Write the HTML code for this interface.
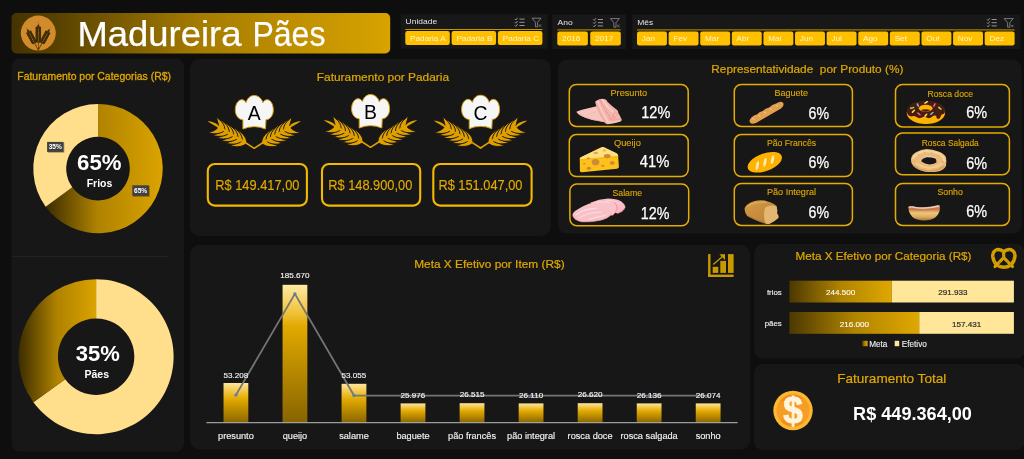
<!DOCTYPE html>
<html lang="pt-BR"><head><meta charset="utf-8"><title>Madureira Pães</title>
<style>
html,body{margin:0;padding:0;background:#0e0e0e;overflow:hidden}
body{width:1024px;height:459px}
svg{display:block;font-family:"Liberation Sans",sans-serif}
</style></head><body>
<svg width="1024" height="459" viewBox="0 0 1024 459">
<rect width="1024" height="459" fill="#0e0e0e"/>
<defs>
<linearGradient id="gBanner" x1="0" x2="1" y1="0" y2="0"><stop offset="0" stop-color="#453300"/><stop offset="0.12" stop-color="#584200"/><stop offset="0.5" stop-color="#a67c00"/><stop offset="1" stop-color="#d8a300"/></linearGradient>
<linearGradient id="gD1" gradientUnits="userSpaceOnUse" x1="45" x2="163" y1="0" y2="0"><stop offset="0" stop-color="#3a2b00"/><stop offset="0.45" stop-color="#b08300"/><stop offset="1" stop-color="#dba400"/></linearGradient>
<linearGradient id="gD2" gradientUnits="userSpaceOnUse" x1="18" x2="97" y1="0" y2="0"><stop offset="0" stop-color="#3a2b00"/><stop offset="0.5" stop-color="#b08300"/><stop offset="1" stop-color="#dba400"/></linearGradient>
<linearGradient id="gBar" x1="0" x2="0" y1="0" y2="1"><stop offset="0" stop-color="#ffe9a3"/><stop offset="0.2" stop-color="#f1c23c"/><stop offset="0.3" stop-color="#e2a900"/><stop offset="1" stop-color="#876400"/></linearGradient>
<linearGradient id="gBarS" x1="0" x2="0" y1="0" y2="1"><stop offset="0" stop-color="#ffe699"/><stop offset="0.4" stop-color="#e3aa00"/><stop offset="1" stop-color="#8a6700"/></linearGradient>
<linearGradient id="gH" x1="0" x2="1" y1="0" y2="0"><stop offset="0" stop-color="#4c3800"/><stop offset="0.5" stop-color="#b08400"/><stop offset="1" stop-color="#dfa700"/></linearGradient>
</defs>
<rect x="11.50" y="13.00" width="378.70" height="40.40" rx="5" fill="url(#gBanner)" />
<circle cx="38.3" cy="33.1" r="17.5" fill="#d18b2d"/>
<g transform="translate(38.3,41.4) rotate(0)" fill="#3f2c05" stroke="none"><path d="M-0.35 0 L0.35 0 L0.3 9 L-0.3 9Z"/><ellipse cx="-1.45" cy="-0.60" rx="1.3" ry="2.0" transform="rotate(-22 -1.45 -0.60)"/><ellipse cx="1.45" cy="-0.60" rx="1.3" ry="2.0" transform="rotate(22 1.45 -0.60)"/><ellipse cx="-1.45" cy="-3.05" rx="1.3" ry="2.0" transform="rotate(-22 -1.45 -3.05)"/><ellipse cx="1.45" cy="-3.05" rx="1.3" ry="2.0" transform="rotate(22 1.45 -3.05)"/><ellipse cx="-1.45" cy="-5.50" rx="1.3" ry="2.0" transform="rotate(-22 -1.45 -5.50)"/><ellipse cx="1.45" cy="-5.50" rx="1.3" ry="2.0" transform="rotate(22 1.45 -5.50)"/><ellipse cx="-1.45" cy="-7.95" rx="1.3" ry="2.0" transform="rotate(-22 -1.45 -7.95)"/><ellipse cx="1.45" cy="-7.95" rx="1.3" ry="2.0" transform="rotate(22 1.45 -7.95)"/><ellipse cx="-1.45" cy="-10.40" rx="1.3" ry="2.0" transform="rotate(-22 -1.45 -10.40)"/><ellipse cx="1.45" cy="-10.40" rx="1.3" ry="2.0" transform="rotate(22 1.45 -10.40)"/><ellipse cx="-1.45" cy="-12.85" rx="1.3" ry="2.0" transform="rotate(-22 -1.45 -12.85)"/><ellipse cx="1.45" cy="-12.85" rx="1.3" ry="2.0" transform="rotate(22 1.45 -12.85)"/><ellipse cx="0" cy="-14.90" rx="1.1" ry="2.1"/><path d="M-0.3 -14.70 L0 -21.20 L0.3 -14.70Z"/></g>
<g transform="translate(34.2,42.4) rotate(-28)" fill="#3f2c05" stroke="none"><path d="M-0.35 0 L0.35 0 L0.3 8.6 L-0.3 8.6Z"/><ellipse cx="-1.45" cy="-0.60" rx="1.3" ry="2.0" transform="rotate(-22 -1.45 -0.60)"/><ellipse cx="1.45" cy="-0.60" rx="1.3" ry="2.0" transform="rotate(22 1.45 -0.60)"/><ellipse cx="-1.45" cy="-3.05" rx="1.3" ry="2.0" transform="rotate(-22 -1.45 -3.05)"/><ellipse cx="1.45" cy="-3.05" rx="1.3" ry="2.0" transform="rotate(22 1.45 -3.05)"/><ellipse cx="-1.45" cy="-5.50" rx="1.3" ry="2.0" transform="rotate(-22 -1.45 -5.50)"/><ellipse cx="1.45" cy="-5.50" rx="1.3" ry="2.0" transform="rotate(22 1.45 -5.50)"/><ellipse cx="-1.45" cy="-7.95" rx="1.3" ry="2.0" transform="rotate(-22 -1.45 -7.95)"/><ellipse cx="1.45" cy="-7.95" rx="1.3" ry="2.0" transform="rotate(22 1.45 -7.95)"/><ellipse cx="-1.45" cy="-10.40" rx="1.3" ry="2.0" transform="rotate(-22 -1.45 -10.40)"/><ellipse cx="1.45" cy="-10.40" rx="1.3" ry="2.0" transform="rotate(22 1.45 -10.40)"/><ellipse cx="0" cy="-12.45" rx="1.1" ry="2.1"/><path d="M-0.3 -12.25 L0 -17.75 L0.3 -12.25Z"/></g>
<g transform="translate(42.4,42.4) rotate(28)" fill="#3f2c05" stroke="none"><path d="M-0.35 0 L0.35 0 L0.3 8.6 L-0.3 8.6Z"/><ellipse cx="-1.45" cy="-0.60" rx="1.3" ry="2.0" transform="rotate(-22 -1.45 -0.60)"/><ellipse cx="1.45" cy="-0.60" rx="1.3" ry="2.0" transform="rotate(22 1.45 -0.60)"/><ellipse cx="-1.45" cy="-3.05" rx="1.3" ry="2.0" transform="rotate(-22 -1.45 -3.05)"/><ellipse cx="1.45" cy="-3.05" rx="1.3" ry="2.0" transform="rotate(22 1.45 -3.05)"/><ellipse cx="-1.45" cy="-5.50" rx="1.3" ry="2.0" transform="rotate(-22 -1.45 -5.50)"/><ellipse cx="1.45" cy="-5.50" rx="1.3" ry="2.0" transform="rotate(22 1.45 -5.50)"/><ellipse cx="-1.45" cy="-7.95" rx="1.3" ry="2.0" transform="rotate(-22 -1.45 -7.95)"/><ellipse cx="1.45" cy="-7.95" rx="1.3" ry="2.0" transform="rotate(22 1.45 -7.95)"/><ellipse cx="-1.45" cy="-10.40" rx="1.3" ry="2.0" transform="rotate(-22 -1.45 -10.40)"/><ellipse cx="1.45" cy="-10.40" rx="1.3" ry="2.0" transform="rotate(22 1.45 -10.40)"/><ellipse cx="0" cy="-12.45" rx="1.1" ry="2.1"/><path d="M-0.3 -12.25 L0 -17.75 L0.3 -12.25Z"/></g>
<text y="45.8" font-size="34.8" fill="#fff" stroke="#fff" stroke-width="0.25" xml:space="preserve"><tspan x="77.5" textLength="164.0" lengthAdjust="spacingAndGlyphs">Madureira</tspan><tspan x="243.5" textLength="81.9" lengthAdjust="spacingAndGlyphs"> Pães</tspan></text>
<rect x="400.60" y="14.20" width="147.00" height="34.50" rx="0" fill="#181818" />
<text x="405.60" y="24.30" font-size="8.0" fill="#e4e4e4" text-anchor="start" textLength="31.6" lengthAdjust="spacingAndGlyphs"  xml:space="preserve">Unidade</text>
<rect x="405.3" y="29.00" width="137.10" height="1" fill="#c29400"/>
<rect x="405.30" y="31.00" width="44.50" height="14.00" rx="2.2" fill="#ffc000" />
<text x="410.10" y="40.50" font-size="7.8" fill="#fff3cf" text-anchor="start" textLength="35.5" lengthAdjust="spacingAndGlyphs"  xml:space="preserve">Padaria A</text>
<rect x="451.60" y="31.00" width="44.50" height="14.00" rx="2.2" fill="#ffc000" />
<text x="456.40" y="40.50" font-size="7.8" fill="#fff3cf" text-anchor="start" textLength="36.0" lengthAdjust="spacingAndGlyphs"  xml:space="preserve">Padaria B</text>
<rect x="497.90" y="31.00" width="44.50" height="14.00" rx="2.2" fill="#ffc000" />
<text x="502.70" y="40.50" font-size="7.8" fill="#fff3cf" text-anchor="start" textLength="36.4" lengthAdjust="spacingAndGlyphs"  xml:space="preserve">Padaria C</text>
<g stroke="#b4b4b4" stroke-width="0.8" fill="none" transform="translate(514.80,17.80)"><path d="M0 1.2 l1 1 l1.8 -2.2 M0 4.4 l1 1 l1.8 -2.2 M0 7.6 l1 1 l1.8 -2.2"/><path d="M4.6 1.3 h5.2 M4.6 4.5 h5.2 M4.6 7.7 h5.2"/><path d="M17.2 0.4 h9 l-3.4 4 v4.6 h-2.2 v-4.6 z" stroke-width="0.7" stroke="#a0a0a0"/><path d="M24 6.6 l2.4 2.4 M26.4 6.6 l-2.4 2.4" stroke-width="0.6" stroke="#a0a0a0"/></g>
<rect x="552.20" y="14.60" width="73.80" height="34.40" rx="0" fill="#181818" />
<text x="557.60" y="24.70" font-size="8.0" fill="#e4e4e4" text-anchor="start" textLength="15.1" lengthAdjust="spacingAndGlyphs"  xml:space="preserve">Ano</text>
<rect x="557.3" y="29.40" width="63.50" height="1" fill="#c29400"/>
<rect x="557.30" y="31.40" width="30.55" height="14.00" rx="2.2" fill="#ffc000" />
<text x="562.10" y="40.90" font-size="7.8" fill="#fff3cf" text-anchor="start" textLength="18.2" lengthAdjust="spacingAndGlyphs"  xml:space="preserve">2016</text>
<rect x="590.25" y="31.40" width="30.55" height="14.00" rx="2.2" fill="#ffc000" />
<text x="595.05" y="40.90" font-size="7.8" fill="#fff3cf" text-anchor="start" textLength="18.2" lengthAdjust="spacingAndGlyphs"  xml:space="preserve">2017</text>
<g stroke="#b4b4b4" stroke-width="0.8" fill="none" transform="translate(593.20,18.20)"><path d="M0 1.2 l1 1 l1.8 -2.2 M0 4.4 l1 1 l1.8 -2.2 M0 7.6 l1 1 l1.8 -2.2"/><path d="M4.6 1.3 h5.2 M4.6 4.5 h5.2 M4.6 7.7 h5.2"/><path d="M17.2 0.4 h9 l-3.4 4 v4.6 h-2.2 v-4.6 z" stroke-width="0.7" stroke="#a0a0a0"/><path d="M24 6.6 l2.4 2.4 M26.4 6.6 l-2.4 2.4" stroke-width="0.6" stroke="#a0a0a0"/></g>
<rect x="632.20" y="14.60" width="388.20" height="34.40" rx="0" fill="#181818" />
<text x="637.30" y="24.70" font-size="8.0" fill="#e4e4e4" text-anchor="start" textLength="16.0" lengthAdjust="spacingAndGlyphs"  xml:space="preserve">Mês</text>
<rect x="637.0" y="29.40" width="377.60" height="1" fill="#c29400"/>
<rect x="637.00" y="31.40" width="29.91" height="14.00" rx="2.2" fill="#ffc000" />
<text x="641.80" y="40.90" font-size="7.8" fill="#fff3cf" text-anchor="start" textLength="13.2" lengthAdjust="spacingAndGlyphs"  xml:space="preserve">Jan</text>
<rect x="668.61" y="31.40" width="29.91" height="14.00" rx="2.2" fill="#ffc000" />
<text x="673.41" y="40.90" font-size="7.8" fill="#fff3cf" text-anchor="start" textLength="13.7" lengthAdjust="spacingAndGlyphs"  xml:space="preserve">Fev</text>
<rect x="700.22" y="31.40" width="29.91" height="14.00" rx="2.2" fill="#ffc000" />
<text x="705.02" y="40.90" font-size="7.8" fill="#fff3cf" text-anchor="start" textLength="14.1" lengthAdjust="spacingAndGlyphs"  xml:space="preserve">Mar</text>
<rect x="731.83" y="31.40" width="29.91" height="14.00" rx="2.2" fill="#ffc000" />
<text x="736.62" y="40.90" font-size="7.8" fill="#fff3cf" text-anchor="start" textLength="12.7" lengthAdjust="spacingAndGlyphs"  xml:space="preserve">Abr</text>
<rect x="763.43" y="31.40" width="29.91" height="14.00" rx="2.2" fill="#ffc000" />
<text x="768.23" y="40.90" font-size="7.8" fill="#fff3cf" text-anchor="start" textLength="13.2" lengthAdjust="spacingAndGlyphs"  xml:space="preserve">Mai</text>
<rect x="795.04" y="31.40" width="29.91" height="14.00" rx="2.2" fill="#ffc000" />
<text x="799.84" y="40.90" font-size="7.8" fill="#fff3cf" text-anchor="start" textLength="13.2" lengthAdjust="spacingAndGlyphs"  xml:space="preserve">Jun</text>
<rect x="826.65" y="31.40" width="29.91" height="14.00" rx="2.2" fill="#ffc000" />
<text x="831.45" y="40.90" font-size="7.8" fill="#fff3cf" text-anchor="start" textLength="10.5" lengthAdjust="spacingAndGlyphs"  xml:space="preserve">Jul</text>
<rect x="858.26" y="31.40" width="29.91" height="14.00" rx="2.2" fill="#ffc000" />
<text x="863.06" y="40.90" font-size="7.8" fill="#fff3cf" text-anchor="start" textLength="14.6" lengthAdjust="spacingAndGlyphs"  xml:space="preserve">Ago</text>
<rect x="889.87" y="31.40" width="29.91" height="14.00" rx="2.2" fill="#ffc000" />
<text x="894.67" y="40.90" font-size="7.8" fill="#fff3cf" text-anchor="start" textLength="12.3" lengthAdjust="spacingAndGlyphs"  xml:space="preserve">Set</text>
<rect x="921.48" y="31.40" width="29.91" height="14.00" rx="2.2" fill="#ffc000" />
<text x="926.27" y="40.90" font-size="7.8" fill="#fff3cf" text-anchor="start" textLength="13.2" lengthAdjust="spacingAndGlyphs"  xml:space="preserve">Out</text>
<rect x="953.08" y="31.40" width="29.91" height="14.00" rx="2.2" fill="#ffc000" />
<text x="957.88" y="40.90" font-size="7.8" fill="#fff3cf" text-anchor="start" textLength="14.6" lengthAdjust="spacingAndGlyphs"  xml:space="preserve">Nov</text>
<rect x="984.69" y="31.40" width="29.91" height="14.00" rx="2.2" fill="#ffc000" />
<text x="989.49" y="40.90" font-size="7.8" fill="#fff3cf" text-anchor="start" textLength="14.6" lengthAdjust="spacingAndGlyphs"  xml:space="preserve">Dez</text>
<g stroke="#b4b4b4" stroke-width="0.8" fill="none" transform="translate(987.00,18.20)"><path d="M0 1.2 l1 1 l1.8 -2.2 M0 4.4 l1 1 l1.8 -2.2 M0 7.6 l1 1 l1.8 -2.2"/><path d="M4.6 1.3 h5.2 M4.6 4.5 h5.2 M4.6 7.7 h5.2"/><path d="M17.2 0.4 h9 l-3.4 4 v4.6 h-2.2 v-4.6 z" stroke-width="0.7" stroke="#a0a0a0"/><path d="M24 6.6 l2.4 2.4 M26.4 6.6 l-2.4 2.4" stroke-width="0.6" stroke="#a0a0a0"/></g>
<rect x="11.70" y="58.40" width="172.30" height="393.30" rx="8" fill="#171717" />
<rect x="11.7" y="256" width="157" height="0.8" fill="#262626"/>
<text x="17.30" y="79.80" font-size="10.4" fill="#e0a900" text-anchor="start" textLength="153.7" lengthAdjust="spacingAndGlyphs"  stroke="#e0a900" stroke-width="0.3" xml:space="preserve">Faturamento por Categorias (R$)</text>
<path d="M98.00 103.90 A64.7 64.7 0 1 1 45.66 206.63 L72.27 187.29 A31.8 31.8 0 1 0 98.00 136.80 Z" fill="url(#gD1)"/>
<path d="M45.66 206.63 A64.7 64.7 0 0 1 98.00 103.90 L98.00 136.80 A31.8 31.8 0 0 0 72.27 187.29 Z" fill="#ffdf8c"/>
<path d="M96.10 279.20 A77.5 77.5 0 1 1 33.40 402.25 L65.20 379.15 A38.2 38.2 0 1 0 96.10 318.50 Z" fill="#ffdf8c"/>
<path d="M33.40 402.25 A77.5 77.5 0 0 1 96.10 279.20 L96.10 318.50 A38.2 38.2 0 0 0 65.20 379.15 Z" fill="url(#gD2)"/>
<text x="77.10" y="169.70" font-size="22.4" fill="#fff" text-anchor="start" font-weight="bold" textLength="44.4" lengthAdjust="spacingAndGlyphs"  xml:space="preserve">65%</text>
<text x="86.70" y="187.00" font-size="11.4" fill="#fff" text-anchor="start" font-weight="bold" textLength="25.6" lengthAdjust="spacingAndGlyphs"  xml:space="preserve">Frios</text>
<text x="75.70" y="360.70" font-size="22.4" fill="#fff" text-anchor="start" font-weight="bold" textLength="44.1" lengthAdjust="spacingAndGlyphs"  xml:space="preserve">35%</text>
<text x="84.40" y="377.90" font-size="10.6" fill="#fff" text-anchor="start" font-weight="bold" textLength="24.6" lengthAdjust="spacingAndGlyphs"  xml:space="preserve">Pães</text>
<rect x="47.9" y="142.70000000000002" width="16.4" height="10.0" fill="#000" opacity="0.35"/>
<rect x="47.10" y="141.90" width="16.40" height="10.00" rx="0" fill="#404040" />
<text x="55.30" y="149.30" font-size="6.6" fill="#fff" text-anchor="middle" font-weight="bold"  xml:space="preserve">35%</text>
<rect x="133.10000000000002" y="186.10000000000002" width="16.599999999999994" height="10.599999999999994" fill="#000" opacity="0.35"/>
<rect x="132.30" y="185.30" width="16.60" height="10.60" rx="0" fill="#404040" />
<text x="140.60" y="193.30" font-size="6.6" fill="#fff" text-anchor="middle" font-weight="bold"  xml:space="preserve">65%</text>
<rect x="189.80" y="58.90" width="361.00" height="177.10" rx="10" fill="#171717" />
<text x="316.80" y="80.90" font-size="11.5" fill="#e0a900" text-anchor="start" textLength="132.3" lengthAdjust="spacingAndGlyphs"  stroke="#e0a900" stroke-width="0.2" xml:space="preserve">Faturamento por Padaria</text>
<g transform="translate(254.20,148.30)">
<g fill="#dfa000" ><g stroke="#171717" stroke-width="1.0" stroke-linejoin="round"><path d="M-7.50 -5.00 C-7.30 -10.50 -10.90 -14.40 -16.10 -18.20 C-14.70 -13.00 -13.30 -9.60 -13.50 -6.40 Z"/><path d="M-11.86 -7.60 C-11.66 -13.10 -15.26 -17.00 -20.46 -20.80 C-19.06 -15.60 -17.66 -12.20 -17.86 -9.00 Z"/><path d="M-16.22 -10.20 C-16.02 -15.70 -19.62 -19.60 -24.82 -23.40 C-23.42 -18.20 -22.02 -14.80 -22.22 -11.60 Z"/><path d="M-20.58 -12.80 C-20.38 -18.30 -23.98 -22.20 -29.18 -26.00 C-27.78 -20.80 -26.38 -17.40 -26.58 -14.20 Z"/><path d="M-24.94 -15.40 C-24.74 -20.90 -28.34 -24.80 -33.54 -28.60 C-32.14 -23.40 -30.74 -20.00 -30.94 -16.80 Z"/><path d="M-29.30 -18.00 C-29.10 -23.50 -32.70 -27.40 -37.90 -31.20 C-36.50 -26.00 -35.10 -22.60 -35.30 -19.40 Z"/><path d="M-7.50 -5.00 C-11.90 -0.80 -18.90 -1.00 -24.70 -2.60 C-19.90 -3.60 -15.90 -5.40 -13.90 -8.60 Z"/><path d="M-11.86 -7.60 C-16.26 -3.40 -23.26 -3.60 -29.06 -5.20 C-24.26 -6.20 -20.26 -8.00 -18.26 -11.20 Z"/><path d="M-16.22 -10.20 C-20.62 -6.00 -27.62 -6.20 -33.42 -7.80 C-28.62 -8.80 -24.62 -10.60 -22.62 -13.80 Z"/><path d="M-20.58 -12.80 C-24.98 -8.60 -31.98 -8.80 -37.78 -10.40 C-32.98 -11.40 -28.98 -13.20 -26.98 -16.40 Z"/><path d="M-24.94 -15.40 C-29.34 -11.20 -36.34 -11.40 -42.14 -13.00 C-37.34 -14.00 -33.34 -15.80 -31.34 -19.00 Z"/><path d="M-29.30 -18.00 C-33.70 -13.80 -40.70 -14.00 -46.50 -15.60 C-41.70 -16.60 -37.70 -18.40 -35.70 -21.60 Z"/></g><path d="M-9.5 -6.0 L-36 -21.6" stroke="#dfa000" stroke-width="2.2" fill="none" stroke-linecap="round"/><path d="M0 0 L-10.5 -6.8" stroke="#dfa000" stroke-width="1.5" fill="none" stroke-linecap="round"/><path d="M-35.5 -20.8 C-40 -22.6 -43 -24.8 -46.8 -27.4 C-42.5 -26.8 -39.5 -26.2 -36.4 -23.6 Z"/></g>
<g fill="#dfa000" transform="scale(-1,1)"><g stroke="#171717" stroke-width="1.0" stroke-linejoin="round"><path d="M-7.50 -5.00 C-7.30 -10.50 -10.90 -14.40 -16.10 -18.20 C-14.70 -13.00 -13.30 -9.60 -13.50 -6.40 Z"/><path d="M-11.86 -7.60 C-11.66 -13.10 -15.26 -17.00 -20.46 -20.80 C-19.06 -15.60 -17.66 -12.20 -17.86 -9.00 Z"/><path d="M-16.22 -10.20 C-16.02 -15.70 -19.62 -19.60 -24.82 -23.40 C-23.42 -18.20 -22.02 -14.80 -22.22 -11.60 Z"/><path d="M-20.58 -12.80 C-20.38 -18.30 -23.98 -22.20 -29.18 -26.00 C-27.78 -20.80 -26.38 -17.40 -26.58 -14.20 Z"/><path d="M-24.94 -15.40 C-24.74 -20.90 -28.34 -24.80 -33.54 -28.60 C-32.14 -23.40 -30.74 -20.00 -30.94 -16.80 Z"/><path d="M-29.30 -18.00 C-29.10 -23.50 -32.70 -27.40 -37.90 -31.20 C-36.50 -26.00 -35.10 -22.60 -35.30 -19.40 Z"/><path d="M-7.50 -5.00 C-11.90 -0.80 -18.90 -1.00 -24.70 -2.60 C-19.90 -3.60 -15.90 -5.40 -13.90 -8.60 Z"/><path d="M-11.86 -7.60 C-16.26 -3.40 -23.26 -3.60 -29.06 -5.20 C-24.26 -6.20 -20.26 -8.00 -18.26 -11.20 Z"/><path d="M-16.22 -10.20 C-20.62 -6.00 -27.62 -6.20 -33.42 -7.80 C-28.62 -8.80 -24.62 -10.60 -22.62 -13.80 Z"/><path d="M-20.58 -12.80 C-24.98 -8.60 -31.98 -8.80 -37.78 -10.40 C-32.98 -11.40 -28.98 -13.20 -26.98 -16.40 Z"/><path d="M-24.94 -15.40 C-29.34 -11.20 -36.34 -11.40 -42.14 -13.00 C-37.34 -14.00 -33.34 -15.80 -31.34 -19.00 Z"/><path d="M-29.30 -18.00 C-33.70 -13.80 -40.70 -14.00 -46.50 -15.60 C-41.70 -16.60 -37.70 -18.40 -35.70 -21.60 Z"/></g><path d="M-9.5 -6.0 L-36 -21.6" stroke="#dfa000" stroke-width="2.2" fill="none" stroke-linecap="round"/><path d="M0 0 L-10.5 -6.8" stroke="#dfa000" stroke-width="1.5" fill="none" stroke-linecap="round"/><path d="M-35.5 -20.8 C-40 -22.6 -43 -24.8 -46.8 -27.4 C-42.5 -26.8 -39.5 -26.2 -36.4 -23.6 Z"/></g>
<path d="M-11.7 -18.7 L-11.7 -28.2 C-16.5 -28.6 -19.6 -33 -19.6 -38.5 C-19.6 -44.5 -16.5 -49.1 -12.8 -49.1 C-10.8 -49.1 -9.2 -47.6 -8.4 -46 C-7.2 -50.6 -4 -53.4 0 -53.4 C4 -53.4 7.8 -50.6 9 -46 C9.8 -47.6 11.4 -49.1 13.4 -49.1 C17 -49.1 19.8 -44.5 19.8 -38.5 C19.8 -33 16.8 -28.6 12.2 -28.2 L11.7 -18.7 Q0 -23.6 -11.7 -18.7 Z" fill="#f6f6f6" stroke="#d9a000" stroke-width="1.0" stroke-linejoin="round" transform="translate(0,-36) scale(0.965) translate(0,36)"/>
<text x="0" y="-28.3" font-size="19.4" fill="#000" text-anchor="middle">A</text>
</g>
<g transform="translate(370.50,147.30)">
<g fill="#dfa000" ><g stroke="#171717" stroke-width="1.0" stroke-linejoin="round"><path d="M-7.50 -5.00 C-7.30 -10.50 -10.90 -14.40 -16.10 -18.20 C-14.70 -13.00 -13.30 -9.60 -13.50 -6.40 Z"/><path d="M-11.86 -7.60 C-11.66 -13.10 -15.26 -17.00 -20.46 -20.80 C-19.06 -15.60 -17.66 -12.20 -17.86 -9.00 Z"/><path d="M-16.22 -10.20 C-16.02 -15.70 -19.62 -19.60 -24.82 -23.40 C-23.42 -18.20 -22.02 -14.80 -22.22 -11.60 Z"/><path d="M-20.58 -12.80 C-20.38 -18.30 -23.98 -22.20 -29.18 -26.00 C-27.78 -20.80 -26.38 -17.40 -26.58 -14.20 Z"/><path d="M-24.94 -15.40 C-24.74 -20.90 -28.34 -24.80 -33.54 -28.60 C-32.14 -23.40 -30.74 -20.00 -30.94 -16.80 Z"/><path d="M-29.30 -18.00 C-29.10 -23.50 -32.70 -27.40 -37.90 -31.20 C-36.50 -26.00 -35.10 -22.60 -35.30 -19.40 Z"/><path d="M-7.50 -5.00 C-11.90 -0.80 -18.90 -1.00 -24.70 -2.60 C-19.90 -3.60 -15.90 -5.40 -13.90 -8.60 Z"/><path d="M-11.86 -7.60 C-16.26 -3.40 -23.26 -3.60 -29.06 -5.20 C-24.26 -6.20 -20.26 -8.00 -18.26 -11.20 Z"/><path d="M-16.22 -10.20 C-20.62 -6.00 -27.62 -6.20 -33.42 -7.80 C-28.62 -8.80 -24.62 -10.60 -22.62 -13.80 Z"/><path d="M-20.58 -12.80 C-24.98 -8.60 -31.98 -8.80 -37.78 -10.40 C-32.98 -11.40 -28.98 -13.20 -26.98 -16.40 Z"/><path d="M-24.94 -15.40 C-29.34 -11.20 -36.34 -11.40 -42.14 -13.00 C-37.34 -14.00 -33.34 -15.80 -31.34 -19.00 Z"/><path d="M-29.30 -18.00 C-33.70 -13.80 -40.70 -14.00 -46.50 -15.60 C-41.70 -16.60 -37.70 -18.40 -35.70 -21.60 Z"/></g><path d="M-9.5 -6.0 L-36 -21.6" stroke="#dfa000" stroke-width="2.2" fill="none" stroke-linecap="round"/><path d="M0 0 L-10.5 -6.8" stroke="#dfa000" stroke-width="1.5" fill="none" stroke-linecap="round"/><path d="M-35.5 -20.8 C-40 -22.6 -43 -24.8 -46.8 -27.4 C-42.5 -26.8 -39.5 -26.2 -36.4 -23.6 Z"/></g>
<g fill="#dfa000" transform="scale(-1,1)"><g stroke="#171717" stroke-width="1.0" stroke-linejoin="round"><path d="M-7.50 -5.00 C-7.30 -10.50 -10.90 -14.40 -16.10 -18.20 C-14.70 -13.00 -13.30 -9.60 -13.50 -6.40 Z"/><path d="M-11.86 -7.60 C-11.66 -13.10 -15.26 -17.00 -20.46 -20.80 C-19.06 -15.60 -17.66 -12.20 -17.86 -9.00 Z"/><path d="M-16.22 -10.20 C-16.02 -15.70 -19.62 -19.60 -24.82 -23.40 C-23.42 -18.20 -22.02 -14.80 -22.22 -11.60 Z"/><path d="M-20.58 -12.80 C-20.38 -18.30 -23.98 -22.20 -29.18 -26.00 C-27.78 -20.80 -26.38 -17.40 -26.58 -14.20 Z"/><path d="M-24.94 -15.40 C-24.74 -20.90 -28.34 -24.80 -33.54 -28.60 C-32.14 -23.40 -30.74 -20.00 -30.94 -16.80 Z"/><path d="M-29.30 -18.00 C-29.10 -23.50 -32.70 -27.40 -37.90 -31.20 C-36.50 -26.00 -35.10 -22.60 -35.30 -19.40 Z"/><path d="M-7.50 -5.00 C-11.90 -0.80 -18.90 -1.00 -24.70 -2.60 C-19.90 -3.60 -15.90 -5.40 -13.90 -8.60 Z"/><path d="M-11.86 -7.60 C-16.26 -3.40 -23.26 -3.60 -29.06 -5.20 C-24.26 -6.20 -20.26 -8.00 -18.26 -11.20 Z"/><path d="M-16.22 -10.20 C-20.62 -6.00 -27.62 -6.20 -33.42 -7.80 C-28.62 -8.80 -24.62 -10.60 -22.62 -13.80 Z"/><path d="M-20.58 -12.80 C-24.98 -8.60 -31.98 -8.80 -37.78 -10.40 C-32.98 -11.40 -28.98 -13.20 -26.98 -16.40 Z"/><path d="M-24.94 -15.40 C-29.34 -11.20 -36.34 -11.40 -42.14 -13.00 C-37.34 -14.00 -33.34 -15.80 -31.34 -19.00 Z"/><path d="M-29.30 -18.00 C-33.70 -13.80 -40.70 -14.00 -46.50 -15.60 C-41.70 -16.60 -37.70 -18.40 -35.70 -21.60 Z"/></g><path d="M-9.5 -6.0 L-36 -21.6" stroke="#dfa000" stroke-width="2.2" fill="none" stroke-linecap="round"/><path d="M0 0 L-10.5 -6.8" stroke="#dfa000" stroke-width="1.5" fill="none" stroke-linecap="round"/><path d="M-35.5 -20.8 C-40 -22.6 -43 -24.8 -46.8 -27.4 C-42.5 -26.8 -39.5 -26.2 -36.4 -23.6 Z"/></g>
<path d="M-11.7 -18.7 L-11.7 -28.2 C-16.5 -28.6 -19.6 -33 -19.6 -38.5 C-19.6 -44.5 -16.5 -49.1 -12.8 -49.1 C-10.8 -49.1 -9.2 -47.6 -8.4 -46 C-7.2 -50.6 -4 -53.4 0 -53.4 C4 -53.4 7.8 -50.6 9 -46 C9.8 -47.6 11.4 -49.1 13.4 -49.1 C17 -49.1 19.8 -44.5 19.8 -38.5 C19.8 -33 16.8 -28.6 12.2 -28.2 L11.7 -18.7 Q0 -23.6 -11.7 -18.7 Z" fill="#f6f6f6" stroke="#d9a000" stroke-width="1.0" stroke-linejoin="round" transform="translate(0,-36) scale(0.965) translate(0,36)"/>
<text x="0" y="-28.3" font-size="19.4" fill="#000" text-anchor="middle">B</text>
</g>
<g transform="translate(480.50,148.00)">
<g fill="#dfa000" ><g stroke="#171717" stroke-width="1.0" stroke-linejoin="round"><path d="M-7.50 -5.00 C-7.30 -10.50 -10.90 -14.40 -16.10 -18.20 C-14.70 -13.00 -13.30 -9.60 -13.50 -6.40 Z"/><path d="M-11.86 -7.60 C-11.66 -13.10 -15.26 -17.00 -20.46 -20.80 C-19.06 -15.60 -17.66 -12.20 -17.86 -9.00 Z"/><path d="M-16.22 -10.20 C-16.02 -15.70 -19.62 -19.60 -24.82 -23.40 C-23.42 -18.20 -22.02 -14.80 -22.22 -11.60 Z"/><path d="M-20.58 -12.80 C-20.38 -18.30 -23.98 -22.20 -29.18 -26.00 C-27.78 -20.80 -26.38 -17.40 -26.58 -14.20 Z"/><path d="M-24.94 -15.40 C-24.74 -20.90 -28.34 -24.80 -33.54 -28.60 C-32.14 -23.40 -30.74 -20.00 -30.94 -16.80 Z"/><path d="M-29.30 -18.00 C-29.10 -23.50 -32.70 -27.40 -37.90 -31.20 C-36.50 -26.00 -35.10 -22.60 -35.30 -19.40 Z"/><path d="M-7.50 -5.00 C-11.90 -0.80 -18.90 -1.00 -24.70 -2.60 C-19.90 -3.60 -15.90 -5.40 -13.90 -8.60 Z"/><path d="M-11.86 -7.60 C-16.26 -3.40 -23.26 -3.60 -29.06 -5.20 C-24.26 -6.20 -20.26 -8.00 -18.26 -11.20 Z"/><path d="M-16.22 -10.20 C-20.62 -6.00 -27.62 -6.20 -33.42 -7.80 C-28.62 -8.80 -24.62 -10.60 -22.62 -13.80 Z"/><path d="M-20.58 -12.80 C-24.98 -8.60 -31.98 -8.80 -37.78 -10.40 C-32.98 -11.40 -28.98 -13.20 -26.98 -16.40 Z"/><path d="M-24.94 -15.40 C-29.34 -11.20 -36.34 -11.40 -42.14 -13.00 C-37.34 -14.00 -33.34 -15.80 -31.34 -19.00 Z"/><path d="M-29.30 -18.00 C-33.70 -13.80 -40.70 -14.00 -46.50 -15.60 C-41.70 -16.60 -37.70 -18.40 -35.70 -21.60 Z"/></g><path d="M-9.5 -6.0 L-36 -21.6" stroke="#dfa000" stroke-width="2.2" fill="none" stroke-linecap="round"/><path d="M0 0 L-10.5 -6.8" stroke="#dfa000" stroke-width="1.5" fill="none" stroke-linecap="round"/><path d="M-35.5 -20.8 C-40 -22.6 -43 -24.8 -46.8 -27.4 C-42.5 -26.8 -39.5 -26.2 -36.4 -23.6 Z"/></g>
<g fill="#dfa000" transform="scale(-1,1)"><g stroke="#171717" stroke-width="1.0" stroke-linejoin="round"><path d="M-7.50 -5.00 C-7.30 -10.50 -10.90 -14.40 -16.10 -18.20 C-14.70 -13.00 -13.30 -9.60 -13.50 -6.40 Z"/><path d="M-11.86 -7.60 C-11.66 -13.10 -15.26 -17.00 -20.46 -20.80 C-19.06 -15.60 -17.66 -12.20 -17.86 -9.00 Z"/><path d="M-16.22 -10.20 C-16.02 -15.70 -19.62 -19.60 -24.82 -23.40 C-23.42 -18.20 -22.02 -14.80 -22.22 -11.60 Z"/><path d="M-20.58 -12.80 C-20.38 -18.30 -23.98 -22.20 -29.18 -26.00 C-27.78 -20.80 -26.38 -17.40 -26.58 -14.20 Z"/><path d="M-24.94 -15.40 C-24.74 -20.90 -28.34 -24.80 -33.54 -28.60 C-32.14 -23.40 -30.74 -20.00 -30.94 -16.80 Z"/><path d="M-29.30 -18.00 C-29.10 -23.50 -32.70 -27.40 -37.90 -31.20 C-36.50 -26.00 -35.10 -22.60 -35.30 -19.40 Z"/><path d="M-7.50 -5.00 C-11.90 -0.80 -18.90 -1.00 -24.70 -2.60 C-19.90 -3.60 -15.90 -5.40 -13.90 -8.60 Z"/><path d="M-11.86 -7.60 C-16.26 -3.40 -23.26 -3.60 -29.06 -5.20 C-24.26 -6.20 -20.26 -8.00 -18.26 -11.20 Z"/><path d="M-16.22 -10.20 C-20.62 -6.00 -27.62 -6.20 -33.42 -7.80 C-28.62 -8.80 -24.62 -10.60 -22.62 -13.80 Z"/><path d="M-20.58 -12.80 C-24.98 -8.60 -31.98 -8.80 -37.78 -10.40 C-32.98 -11.40 -28.98 -13.20 -26.98 -16.40 Z"/><path d="M-24.94 -15.40 C-29.34 -11.20 -36.34 -11.40 -42.14 -13.00 C-37.34 -14.00 -33.34 -15.80 -31.34 -19.00 Z"/><path d="M-29.30 -18.00 C-33.70 -13.80 -40.70 -14.00 -46.50 -15.60 C-41.70 -16.60 -37.70 -18.40 -35.70 -21.60 Z"/></g><path d="M-9.5 -6.0 L-36 -21.6" stroke="#dfa000" stroke-width="2.2" fill="none" stroke-linecap="round"/><path d="M0 0 L-10.5 -6.8" stroke="#dfa000" stroke-width="1.5" fill="none" stroke-linecap="round"/><path d="M-35.5 -20.8 C-40 -22.6 -43 -24.8 -46.8 -27.4 C-42.5 -26.8 -39.5 -26.2 -36.4 -23.6 Z"/></g>
<path d="M-11.7 -18.7 L-11.7 -28.2 C-16.5 -28.6 -19.6 -33 -19.6 -38.5 C-19.6 -44.5 -16.5 -49.1 -12.8 -49.1 C-10.8 -49.1 -9.2 -47.6 -8.4 -46 C-7.2 -50.6 -4 -53.4 0 -53.4 C4 -53.4 7.8 -50.6 9 -46 C9.8 -47.6 11.4 -49.1 13.4 -49.1 C17 -49.1 19.8 -44.5 19.8 -38.5 C19.8 -33 16.8 -28.6 12.2 -28.2 L11.7 -18.7 Q0 -23.6 -11.7 -18.7 Z" fill="#f6f6f6" stroke="#d9a000" stroke-width="1.0" stroke-linejoin="round" transform="translate(0,-36) scale(0.965) translate(0,36)"/>
<text x="0" y="-28.3" font-size="19.4" fill="#000" text-anchor="middle">C</text>
</g>
<rect x="207.80" y="164.0" width="99.10" height="41.6" rx="7" fill="none" stroke="#f4b800" stroke-width="2.1"/>
<text x="215.30" y="190.30" font-size="14.0" fill="#e3aa00" text-anchor="start" textLength="84.1" lengthAdjust="spacingAndGlyphs"  stroke="#e3aa00" stroke-width="0.15" xml:space="preserve">R$ 149.417,00</text>
<rect x="322.00" y="164.0" width="98.20" height="41.6" rx="7" fill="none" stroke="#f4b800" stroke-width="2.1"/>
<text x="328.20" y="190.30" font-size="14.0" fill="#e3aa00" text-anchor="start" textLength="84.1" lengthAdjust="spacingAndGlyphs"  stroke="#e3aa00" stroke-width="0.15" xml:space="preserve">R$ 148.900,00</text>
<rect x="433.30" y="164.0" width="98.30" height="41.6" rx="7" fill="none" stroke="#f4b800" stroke-width="2.1"/>
<text x="438.40" y="190.30" font-size="14.0" fill="#e3aa00" text-anchor="start" textLength="84.1" lengthAdjust="spacingAndGlyphs"  stroke="#e3aa00" stroke-width="0.15" xml:space="preserve">R$ 151.047,00</text>
<rect x="557.90" y="59.40" width="463.60" height="174.20" rx="9" fill="#171717" />
<text x="711.30" y="73.00" font-size="11.5" fill="#e0a900" text-anchor="start" textLength="192.1" lengthAdjust="spacingAndGlyphs"  stroke="#e0a900" stroke-width="0.2" xml:space="preserve">Representatividade  por Produto (%)</text>
<rect x="569.30" y="84.40" width="118.90" height="42.00" rx="7" fill="none" stroke="#e6ac00" stroke-width="1.5"/>
<text x="610.50" y="95.80" font-size="9" fill="#e0a900" text-anchor="start" textLength="36.7" lengthAdjust="spacingAndGlyphs"  stroke="#e0a900" stroke-width="0.12" xml:space="preserve">Presunto</text>
<text x="641.30" y="117.90" font-size="16.4" fill="#fff" text-anchor="start" textLength="29.0" lengthAdjust="spacingAndGlyphs"  stroke="#fff" stroke-width="0.25" xml:space="preserve">12%</text>
<rect x="569.30" y="134.60" width="118.90" height="41.90" rx="7" fill="none" stroke="#e6ac00" stroke-width="1.5"/>
<text x="614.00" y="145.80" font-size="9" fill="#e0a900" text-anchor="start" textLength="26.8" lengthAdjust="spacingAndGlyphs"  stroke="#e0a900" stroke-width="0.12" xml:space="preserve">Queijo</text>
<text x="639.80" y="167.10" font-size="16.4" fill="#fff" text-anchor="start" textLength="29.6" lengthAdjust="spacingAndGlyphs"  stroke="#fff" stroke-width="0.25" xml:space="preserve">41%</text>
<rect x="569.90" y="184.00" width="118.80" height="41.80" rx="7" fill="none" stroke="#e6ac00" stroke-width="1.5"/>
<text x="612.50" y="195.80" font-size="9" fill="#e0a900" text-anchor="start" textLength="29.5" lengthAdjust="spacingAndGlyphs"  stroke="#e0a900" stroke-width="0.12" xml:space="preserve">Salame</text>
<text x="640.80" y="218.50" font-size="16.4" fill="#fff" text-anchor="start" textLength="28.6" lengthAdjust="spacingAndGlyphs"  stroke="#fff" stroke-width="0.25" xml:space="preserve">12%</text>
<rect x="734.30" y="84.40" width="118.10" height="42.00" rx="7" fill="none" stroke="#e6ac00" stroke-width="1.5"/>
<text x="774.50" y="96.20" font-size="9" fill="#e0a900" text-anchor="start" textLength="33.6" lengthAdjust="spacingAndGlyphs"  stroke="#e0a900" stroke-width="0.12" xml:space="preserve">Baguete</text>
<text x="808.50" y="118.50" font-size="16.4" fill="#fff" text-anchor="start" textLength="20.5" lengthAdjust="spacingAndGlyphs"  stroke="#fff" stroke-width="0.25" xml:space="preserve">6%</text>
<rect x="734.30" y="134.60" width="118.10" height="41.90" rx="7" fill="none" stroke="#e6ac00" stroke-width="1.5"/>
<text x="766.90" y="145.80" font-size="9" fill="#e0a900" text-anchor="start" textLength="49.2" lengthAdjust="spacingAndGlyphs"  stroke="#e0a900" stroke-width="0.12" xml:space="preserve">Pão Francês</text>
<text x="808.50" y="167.70" font-size="16.4" fill="#fff" text-anchor="start" textLength="20.5" lengthAdjust="spacingAndGlyphs"  stroke="#fff" stroke-width="0.25" xml:space="preserve">6%</text>
<rect x="734.30" y="183.50" width="118.10" height="41.90" rx="7" fill="none" stroke="#e6ac00" stroke-width="1.5"/>
<text x="766.90" y="194.70" font-size="9" fill="#e0a900" text-anchor="start" textLength="49.2" lengthAdjust="spacingAndGlyphs"  stroke="#e0a900" stroke-width="0.12" xml:space="preserve">Pão Integral</text>
<text x="808.50" y="217.50" font-size="16.4" fill="#fff" text-anchor="start" textLength="20.5" lengthAdjust="spacingAndGlyphs"  stroke="#fff" stroke-width="0.25" xml:space="preserve">6%</text>
<rect x="895.50" y="84.40" width="113.90" height="42.50" rx="7" fill="none" stroke="#e6ac00" stroke-width="1.5"/>
<text x="927.50" y="96.50" font-size="9" fill="#e0a900" text-anchor="start" textLength="45.6" lengthAdjust="spacingAndGlyphs"  stroke="#e0a900" stroke-width="0.12" xml:space="preserve">Rosca doce</text>
<text x="966.30" y="117.70" font-size="16.4" fill="#fff" text-anchor="start" textLength="20.9" lengthAdjust="spacingAndGlyphs"  stroke="#fff" stroke-width="0.25" xml:space="preserve">6%</text>
<rect x="895.50" y="132.90" width="113.90" height="41.90" rx="7" fill="none" stroke="#e6ac00" stroke-width="1.5"/>
<text x="921.70" y="145.80" font-size="9" fill="#e0a900" text-anchor="start" textLength="57.1" lengthAdjust="spacingAndGlyphs"  stroke="#e0a900" stroke-width="0.12" xml:space="preserve">Rosca Salgada</text>
<text x="966.30" y="168.50" font-size="16.4" fill="#fff" text-anchor="start" textLength="20.9" lengthAdjust="spacingAndGlyphs"  stroke="#fff" stroke-width="0.25" xml:space="preserve">6%</text>
<rect x="895.50" y="183.40" width="113.90" height="42.00" rx="7" fill="none" stroke="#e6ac00" stroke-width="1.5"/>
<text x="937.40" y="194.50" font-size="9" fill="#e0a900" text-anchor="start" textLength="25.4" lengthAdjust="spacingAndGlyphs"  stroke="#e0a900" stroke-width="0.12" xml:space="preserve">Sonho</text>
<text x="966.30" y="217.30" font-size="16.4" fill="#fff" text-anchor="start" textLength="20.9" lengthAdjust="spacingAndGlyphs"  stroke="#fff" stroke-width="0.25" xml:space="preserve">6%</text>
<defs>
<linearGradient id="fHam" x1="0" x2="1" y1="0" y2="0"><stop offset="0" stop-color="#f9cfc8"/><stop offset="1" stop-color="#f2aaa3"/></linearGradient>
<linearGradient id="fSal" x1="0" x2="1" y1="1" y2="0"><stop offset="0" stop-color="#f8b6c0"/><stop offset="1" stop-color="#f7a3b0"/></linearGradient>
<linearGradient id="fLoaf" x1="0" x2="1" y1="0" y2="1"><stop offset="0" stop-color="#d39a45"/><stop offset="1" stop-color="#b97f34"/></linearGradient>
<linearGradient id="fSon" x1="0" x2="0" y1="0" y2="1"><stop offset="0" stop-color="#d9a08a"/><stop offset="0.25" stop-color="#c77a4d"/><stop offset="0.5" stop-color="#ecc777"/><stop offset="0.75" stop-color="#dcae62"/><stop offset="1" stop-color="#a8703a"/></linearGradient>
<radialGradient id="fRing" cx="0.45" cy="0.35" r="0.75"><stop offset="0" stop-color="#f8deb2"/><stop offset="0.6" stop-color="#eebf85"/><stop offset="1" stop-color="#c98f4e"/></radialGradient>
</defs>
<g transform="translate(570,94) scale(0.07407)">
<path d="M85 240 Q140 215 230 195 L360 165 L480 385 Q380 362 300 350 Q230 335 160 300 Q100 275 85 240Z" fill="#f6c6be"/>
<path d="M125 278 Q200 318 300 342 L430 368" stroke="#f1a9a2" stroke-width="10" fill="none" stroke-linecap="round"/>
<path d="M225 290 Q300 250 360 240" stroke="#f3b8b0" stroke-width="9" fill="none" stroke-linecap="round"/>
<path d="M340 100 Q365 85 400 70 Q440 60 475 72 Q500 85 505 105 Q560 160 640 220 Q655 240 650 250 Q690 320 700 355 Q690 375 640 386 Q560 405 505 410 Q475 395 460 375 Q420 330 390 260 Q350 170 340 100Z" fill="#f3b5ad"/>
<path d="M400 75 Q460 200 560 345" stroke="#e8928c" stroke-width="11" fill="none" stroke-linecap="round"/>
<path d="M350 120 Q400 270 480 395" stroke="#ee9f99" stroke-width="10" fill="none" stroke-linecap="round"/>
<path d="M372 100 Q430 250 520 385" stroke="#fad9d4" stroke-width="16" fill="none" stroke-linecap="round"/>
<path d="M440 80 Q510 190 600 260" stroke="#fad5cf" stroke-width="18" fill="none" stroke-linecap="round"/>
<ellipse cx="600" cy="285" rx="24" ry="46" transform="rotate(18 600 285)" fill="#ef9890"/>
<ellipse cx="606" cy="280" rx="14" ry="36" transform="rotate(18 606 280)" fill="#f6b9b1"/>
<path d="M520 330 Q560 360 600 350 Q650 335 690 340" stroke="#ee9f98" stroke-width="10" fill="none" stroke-linecap="round"/>
<path d="M500 380 Q580 385 680 360" stroke="#f8cbc5" stroke-width="14" fill="none" stroke-linecap="round"/>
</g>
<g transform="translate(566,132) scale(0.12305)">
<path d="M112 222 Q108 210 125 203 L285 125 Q298 120 312 125 L410 172 Q425 180 424 195 L430 285 Q430 296 415 298 L130 327 Q114 328 113 312 Z" fill="#fcc21b"/>
<path d="M112 222 Q108 210 125 203 L285 125 Q298 120 312 125 L410 172 Q425 180 424 195 Z" fill="#ffdf80"/>
<path d="M424 195 L300 205 L112 222 L113 232 L424 206Z" fill="#f5b800" opacity="0.6"/>
<g fill="#cf8a36"><ellipse cx="240" cy="245" rx="31" ry="25"/><ellipse cx="335" cy="196" rx="28" ry="18"/><ellipse cx="376" cy="251" rx="21" ry="16"/><ellipse cx="186" cy="295" rx="18" ry="13"/><ellipse cx="299" cy="275" rx="13" ry="9"/><ellipse cx="149" cy="257" rx="9" ry="7"/><ellipse cx="181" cy="214" rx="13" ry="7"/></g>
<g fill="#e9a94a"><ellipse cx="242" cy="171" rx="19" ry="10"/><ellipse cx="312" cy="150" rx="13" ry="7"/></g>
</g>
<g transform="translate(568,194) scale(0.07407)">
<path d="M300 118 Q420 65 540 62 Q650 62 720 100 Q770 135 775 172 Q772 210 730 238 Q700 255 672 262 L500 220 Z" fill="#f9bcc4"/>
<path d="M672 264 Q740 235 774 185" stroke="#e85a6a" stroke-width="9" fill="none"/>
<path d="M150 195 Q280 120 420 95 Q540 85 610 110 Q655 140 662 180 Q665 215 640 250 Q620 275 598 290 L400 260Z" fill="#fac3ca"/>
<path d="M598 292 Q650 250 662 200 Q664 150 625 110" stroke="#ee7885" stroke-width="8" fill="none"/>
<path d="M60 282 Q62 240 150 195 Q260 150 390 158 Q500 165 570 215 Q595 250 585 280 Q540 330 440 355 Q300 385 180 375 Q75 350 60 282Z" fill="#f8c0c7"/>
<path d="M64 295 Q85 350 180 375 Q300 384 440 355 Q545 328 586 275" stroke="#f3919c" stroke-width="9" fill="none"/>
<path d="M110 280 Q220 200 380 195 M150 320 Q280 250 450 240 M280 345 Q380 310 500 290" stroke="#fde3e6" stroke-width="16" fill="none" stroke-linecap="round" opacity="0.85"/>
<path d="M380 110 Q470 95 560 115 M520 85 Q620 85 700 130" stroke="#fde3e6" stroke-width="14" fill="none" stroke-linecap="round" opacity="0.7"/>
</g>
<g transform="translate(730,82) scale(0.12305)">
<g transform="translate(297,251) rotate(-28.5)">
<path d="M-155 2 Q-155 -22 -120 -28 Q-95 -33 -75 -25 Q-50 -36 -20 -28 Q10 -37 40 -29 Q70 -38 105 -30 Q150 -33 157 -8 Q160 16 120 25 L-110 31 Q-155 28 -155 2Z" fill="#e2a04e"/>
<path d="M-122 -14 l8 12 M-68 -14 l8 12 M-14 -15 l8 12 M42 -16 l8 12 M98 -17 l8 12" stroke="#f6d7a6" stroke-width="5" stroke-linecap="round"/>
</g>
</g>
<g>
<ellipse cx="764.8" cy="162.3" rx="18" ry="8.8" transform="rotate(-20 764.8 162.3)" fill="#ffb200"/>
<g fill="#ff9a00" opacity="0.75"><ellipse cx="758.2" cy="165.6" rx="1.6" ry="4.2" transform="rotate(12 758.2 165.6)"/><ellipse cx="765.8" cy="162.4" rx="1.6" ry="4.2" transform="rotate(12 765.8 162.4)"/><ellipse cx="773.4" cy="159.7" rx="1.6" ry="4.2" transform="rotate(12 773.4 159.7)"/></g>
<g fill="#ffe8a8"><ellipse cx="757.4" cy="165.6" rx="1.5" ry="4.5" transform="rotate(12 757.4 165.6)"/><ellipse cx="765.0" cy="162.4" rx="1.5" ry="4.5" transform="rotate(12 765 162.4)"/><ellipse cx="772.6" cy="159.7" rx="1.5" ry="4.5" transform="rotate(12 772.6 159.7)"/></g>
</g>
<g transform="translate(730,181) scale(0.12305)">
<path d="M118 228 Q125 185 200 162 Q260 150 300 165 Q360 180 378 205 Q388 240 382 262 Q400 285 392 300 Q360 330 318 350 Q290 352 235 330 Q170 305 140 285 Q120 260 118 228Z" fill="url(#fLoaf)"/>
<path d="M285 215 Q335 190 378 205 Q388 240 382 262 Q400 285 392 300 Q360 330 318 350 Q290 350 285 335 Q268 275 285 215Z" fill="#e3b672"/>
<path d="M140 205 Q200 170 290 172" stroke="#e2ae5c" stroke-width="14" fill="none" stroke-linecap="round" opacity="0.7"/>
<path d="M150 285 Q210 318 282 340" stroke="#a06a28" stroke-width="8" fill="none" opacity="0.6"/>
</g>
<g transform="translate(890,82) scale(0.12305)">
<ellipse cx="292" cy="250" rx="156" ry="92" fill="#ffb300"/>
<path d="M137 240 Q140 160 292 153 Q445 158 447 240 Q445 262 425 262 Q415 262 410 285 Q405 300 390 300 Q375 298 375 275 Q355 268 340 285 Q320 300 300 290 Q280 275 255 290 Q235 300 215 285 Q195 270 175 280 Q140 275 137 240Z" fill="#4a1c11"/>
<ellipse cx="290" cy="213" rx="56" ry="29" fill="#ffb300"/>
<path d="M252 228 Q290 214 328 228 Q312 240 290 241 Q266 240 252 228Z" fill="#4a1c11"/>
<g stroke-width="12" stroke-linecap="round"><path d="M222 178 l8 18" stroke="#5fd0e8"/><path d="M366 178 l-10 18" stroke="#ff5fa0"/><path d="M168 214 l24 -6" stroke="#9be06a"/><path d="M396 206 l18 14" stroke="#9be06a"/><path d="M284 172 l20 -12" stroke="#ffe45c"/><path d="M182 246 l16 -16" stroke="#ffe45c"/><path d="M226 252 l18 14" stroke="#ff5fa0"/><path d="M332 262 l16 -14" stroke="#5fd0e8"/><path d="M284 278 l14 -16" stroke="#ffe45c"/></g>
</g>
<g transform="translate(900,143) scale(0.07407)">
<path fill-rule="evenodd" d="M148 225 Q150 165 215 125 Q280 85 360 82 Q440 85 520 115 Q590 140 620 190 Q635 250 620 310 Q590 365 510 385 Q420 400 330 385 Q230 360 180 310 Q145 270 148 225Z M285 232 Q300 200 360 188 Q430 185 478 205 Q500 235 492 262 Q450 290 395 290 Q330 275 300 255 Q285 245 285 232Z" fill="#ebbb7a"/>
<path d="M180 200 Q230 130 340 110 Q450 105 540 150 Q595 190 600 240" stroke="#f5d8a8" stroke-width="30" fill="none" stroke-linecap="round" opacity="0.85"/>
<path d="M190 305 Q260 365 380 378 Q500 380 590 320" stroke="#cf9a55" stroke-width="22" fill="none" stroke-linecap="round" opacity="0.7"/>
<path d="M230 280 Q300 330 400 335 Q500 330 560 280" stroke="#f3cf98" stroke-width="24" fill="none" stroke-linecap="round" opacity="0.8"/>
<path d="M282 236 Q295 200 360 186 Q430 182 480 204" stroke="#e9e2da" stroke-width="10" fill="none" stroke-linecap="round"/>
<g fill="#d9a35c" opacity="0.8"><circle cx="250" cy="160" r="10"/><circle cx="330" cy="130" r="9"/><circle cx="430" cy="135" r="10"/><circle cx="520" cy="170" r="9"/><circle cx="575" cy="250" r="10"/><circle cx="545" cy="325" r="9"/><circle cx="450" cy="350" r="10"/><circle cx="340" cy="345" r="9"/><circle cx="240" cy="310" r="10"/><circle cx="195" cy="245" r="9"/></g>
</g>
<g transform="translate(890,181) scale(0.12305)">
<path d="M150 212 Q160 200 185 208 Q230 218 280 214 Q340 212 385 198 Q402 194 405 210 Q410 260 370 295 Q330 322 280 322 Q215 320 180 290 Q148 255 150 212Z" fill="url(#fSon)"/>
<path d="M155 212 Q185 207 215 217 Q280 224 340 214 Q380 207 400 202" stroke="#f1dcd2" stroke-width="11" fill="none" stroke-linecap="round" opacity="0.85" stroke-dasharray="14 7"/>
<path d="M165 228 Q280 242 395 222" stroke="#c8754c" stroke-width="10" fill="none" opacity="0.6"/>
</g>

<rect x="189.80" y="244.70" width="560.70" height="204.70" rx="10" fill="#171717" />
<text x="414.20" y="267.70" font-size="11.5" fill="#e0a900" text-anchor="start" textLength="150.4" lengthAdjust="spacingAndGlyphs"  stroke="#e0a900" stroke-width="0.2" xml:space="preserve">Meta X Efetivo por Item (R$)</text>
<g fill="#c99a00"><rect x="708.1" y="254.1" width="2.4" height="22.9"/><rect x="708.1" y="274.6" width="25.5" height="2.4"/><rect x="712.7" y="266.8" width="5.6" height="6.1"/><rect x="720.3" y="260.9" width="5.7" height="12"/><rect x="728" y="254.1" width="5.6" height="18.8"/><path d="M713.2 264.6 L723.6 255.6" stroke="#c99a00" stroke-width="1.3" fill="none"/><path d="M719.4 254.3 h5.6 v5.6 Z" fill="#c99a00"/></g>
<rect x="223.52" y="383.00" width="24.80" height="39.40" rx="0" fill="url(#gBarS)" />
<rect x="282.55" y="284.80" width="24.80" height="137.60" rx="0" fill="url(#gBar)" />
<rect x="341.58" y="383.80" width="24.80" height="38.60" rx="0" fill="url(#gBarS)" />
<rect x="400.61" y="403.40" width="24.80" height="19.00" rx="0" fill="url(#gBarS)" />
<rect x="459.63" y="403.20" width="24.80" height="19.20" rx="0" fill="url(#gBarS)" />
<rect x="518.67" y="403.40" width="24.80" height="19.00" rx="0" fill="url(#gBarS)" />
<rect x="577.70" y="403.20" width="24.80" height="19.20" rx="0" fill="url(#gBarS)" />
<rect x="636.73" y="403.40" width="24.80" height="19.00" rx="0" fill="url(#gBarS)" />
<rect x="695.75" y="403.40" width="24.80" height="19.00" rx="0" fill="url(#gBarS)" />
<rect x="206.4" y="422.2" width="531.3" height="1" fill="#bdbdbd"/>
<polyline points="235.9,395.1 294.9,293.9 354.0,395.5 413.0,395.7 472.0,395.7 531.1,395.7 590.1,395.7 649.1,395.7 708.2,395.7" fill="none" stroke="#757575" stroke-width="1.8" stroke-linejoin="round"/>
<circle cx="235.9" cy="395.1" r="1.7" fill="#5b7fb8"/>
<circle cx="294.9" cy="293.9" r="1.7" fill="#5b7fb8"/>
<circle cx="354.0" cy="395.5" r="1.7" fill="#5b7fb8"/>
<circle cx="413.0" cy="395.7" r="1.2" fill="#5b7fb8"/>
<circle cx="472.0" cy="395.7" r="1.2" fill="#5b7fb8"/>
<circle cx="531.1" cy="395.7" r="1.2" fill="#5b7fb8"/>
<circle cx="590.1" cy="395.7" r="1.2" fill="#5b7fb8"/>
<circle cx="649.1" cy="395.7" r="1.2" fill="#5b7fb8"/>
<circle cx="708.2" cy="395.7" r="1.2" fill="#5b7fb8"/>
<text x="235.92" y="377.60" font-size="8.1" fill="#f2f2f2" text-anchor="middle"  stroke="#f2f2f2" stroke-width="0.15" xml:space="preserve">53.208</text>
<text x="294.94" y="278.30" font-size="8.1" fill="#f2f2f2" text-anchor="middle"  stroke="#f2f2f2" stroke-width="0.15" xml:space="preserve">185.670</text>
<text x="353.98" y="377.60" font-size="8.1" fill="#f2f2f2" text-anchor="middle"  stroke="#f2f2f2" stroke-width="0.15" xml:space="preserve">53.055</text>
<text x="413.00" y="397.80" font-size="8.1" fill="#f2f2f2" text-anchor="middle"  stroke="#f2f2f2" stroke-width="0.15" xml:space="preserve">25.976</text>
<text x="472.03" y="397.30" font-size="8.1" fill="#f2f2f2" text-anchor="middle"  stroke="#f2f2f2" stroke-width="0.15" xml:space="preserve">26.515</text>
<text x="531.07" y="397.90" font-size="8.1" fill="#f2f2f2" text-anchor="middle"  stroke="#f2f2f2" stroke-width="0.15" xml:space="preserve">26.110</text>
<text x="590.10" y="397.30" font-size="8.1" fill="#f2f2f2" text-anchor="middle"  stroke="#f2f2f2" stroke-width="0.15" xml:space="preserve">26.620</text>
<text x="649.12" y="397.90" font-size="8.1" fill="#f2f2f2" text-anchor="middle"  stroke="#f2f2f2" stroke-width="0.15" xml:space="preserve">26.136</text>
<text x="708.15" y="397.90" font-size="8.1" fill="#f2f2f2" text-anchor="middle"  stroke="#f2f2f2" stroke-width="0.15" xml:space="preserve">26.074</text>
<text x="235.92" y="438.50" font-size="9.2" fill="#f2f2f2" text-anchor="middle"  stroke="#f2f2f2" stroke-width="0.15" xml:space="preserve">presunto</text>
<text x="294.94" y="438.50" font-size="9.2" fill="#f2f2f2" text-anchor="middle"  stroke="#f2f2f2" stroke-width="0.15" xml:space="preserve">queijo</text>
<text x="353.98" y="438.50" font-size="9.2" fill="#f2f2f2" text-anchor="middle"  stroke="#f2f2f2" stroke-width="0.15" xml:space="preserve">salame</text>
<text x="413.00" y="438.50" font-size="9.2" fill="#f2f2f2" text-anchor="middle"  stroke="#f2f2f2" stroke-width="0.15" xml:space="preserve">baguete</text>
<text x="472.03" y="438.50" font-size="9.2" fill="#f2f2f2" text-anchor="middle"  stroke="#f2f2f2" stroke-width="0.15" xml:space="preserve">pão francês</text>
<text x="531.07" y="438.50" font-size="9.2" fill="#f2f2f2" text-anchor="middle"  stroke="#f2f2f2" stroke-width="0.15" xml:space="preserve">pão integral</text>
<text x="590.10" y="438.50" font-size="9.2" fill="#f2f2f2" text-anchor="middle"  stroke="#f2f2f2" stroke-width="0.15" xml:space="preserve">rosca doce</text>
<text x="649.12" y="438.50" font-size="9.2" fill="#f2f2f2" text-anchor="middle"  stroke="#f2f2f2" stroke-width="0.15" xml:space="preserve">rosca salgada</text>
<text x="708.15" y="438.50" font-size="9.2" fill="#f2f2f2" text-anchor="middle"  stroke="#f2f2f2" stroke-width="0.15" xml:space="preserve">sonho</text>
<rect x="754.30" y="244.10" width="270.70" height="114.50" rx="9" fill="#171717" />
<text x="795.50" y="260.00" font-size="11.5" fill="#e0a900" text-anchor="start" textLength="176.0" lengthAdjust="spacingAndGlyphs"  stroke="#e0a900" stroke-width="0.2" xml:space="preserve">Meta X Efetivo por Categoria (R$)</text>
<rect x="789.40" y="280.70" width="102.40" height="21.80" rx="0" fill="url(#gH)" />
<rect x="891.80" y="280.70" width="122.10" height="21.80" rx="0" fill="#ffe699" />
<text x="781.80" y="294.50" font-size="7.9" fill="#f2f2f2" text-anchor="end"  stroke="#f2f2f2" stroke-width="0.12" xml:space="preserve">frios</text>
<text x="840.60" y="295.20" font-size="8.1" fill="#fff" text-anchor="middle"  stroke="#fff" stroke-width="0.12" xml:space="preserve">244.500</text>
<text x="952.85" y="295.20" font-size="8.1" fill="#2c2c2c" text-anchor="middle"  stroke="#2c2c2c" stroke-width="0.2" xml:space="preserve">291.933</text>
<rect x="789.40" y="312.00" width="129.80" height="21.80" rx="0" fill="url(#gH)" />
<rect x="919.20" y="312.00" width="94.70" height="21.80" rx="0" fill="#ffe699" />
<text x="781.80" y="325.80" font-size="7.9" fill="#f2f2f2" text-anchor="end"  stroke="#f2f2f2" stroke-width="0.12" xml:space="preserve">pães</text>
<text x="854.30" y="326.50" font-size="8.1" fill="#fff" text-anchor="middle"  stroke="#fff" stroke-width="0.12" xml:space="preserve">216.000</text>
<text x="966.55" y="326.50" font-size="8.1" fill="#2c2c2c" text-anchor="middle"  stroke="#2c2c2c" stroke-width="0.2" xml:space="preserve">157.431</text>
<rect x="862.10" y="340.80" width="5.50" height="5.40" rx="0" fill="url(#gH)" />
<text x="869.20" y="346.50" font-size="8.2" fill="#f2f2f2" text-anchor="start"  stroke="#f2f2f2" stroke-width="0.1" xml:space="preserve">Meta</text>
<rect x="894.70" y="340.80" width="4.50" height="5.40" rx="0" fill="#ffe699" />
<text x="901.80" y="346.50" font-size="8.2" fill="#f2f2f2" text-anchor="start"  stroke="#f2f2f2" stroke-width="0.1" xml:space="preserve">Efetivo</text>
<g transform="translate(980,240) scale(0.07843)">
<g fill="none" stroke="#d4a000" stroke-width="44" stroke-linecap="round" stroke-linejoin="round">
<path d="M302 150 Q262 112 212 124 Q160 145 162 208 Q170 275 212 318 Q255 348 303 348 Q350 348 395 318 Q438 275 446 208 Q448 145 396 124 Q345 112 302 150Z"/>
<path d="M302 150 L302 225 M302 225 L192 338 M302 225 L414 338" stroke-width="40"/>
</g>
<g fill="#5a4300"><circle cx="205" cy="135" r="5"/><circle cx="170" cy="210" r="5"/><circle cx="185" cy="270" r="5"/><circle cx="245" cy="325" r="5"/><circle cx="320" cy="345" r="5"/><circle cx="385" cy="318" r="5"/><circle cx="432" cy="248" r="5"/><circle cx="438" cy="180" r="5"/><circle cx="372" cy="132" r="5"/><circle cx="288" cy="145" r="5"/><circle cx="318" cy="185" r="5"/><circle cx="296" cy="225" r="5"/><circle cx="350" cy="270" r="5"/><circle cx="245" cy="285" r="5"/></g>
</g>

<rect x="753.90" y="363.90" width="271.10" height="86.00" rx="9" fill="#171717" />
<text x="837.20" y="382.60" font-size="13.4" fill="#e0a900" text-anchor="start" textLength="109.1" lengthAdjust="spacingAndGlyphs"  stroke="#e0a900" stroke-width="0.2" xml:space="preserve">Faturamento Total</text>
<text x="853.10" y="420.10" font-size="18.4" fill="#fff" text-anchor="start" font-weight="bold" textLength="118.8" lengthAdjust="spacingAndGlyphs"  xml:space="preserve">R$ 449.364,00</text>
<circle cx="793" cy="410.5" r="19.7" fill="#fcb92f"/><circle cx="793" cy="410.5" r="16.2" fill="#f28c1c"/><path d="M779.2 419.6 A16.2 16.2 0 0 1 779.6 401.2 L805 398.4 A16.2 16.2 0 0 1 804 422.6Z" fill="#f8a42a" opacity="0.7"/>
<text x="793" y="423.2" font-size="37" font-weight="bold" fill="#fff5dc" stroke="#fff5dc" stroke-width="0.9" text-anchor="middle" textLength="19.5" lengthAdjust="spacingAndGlyphs">$</text>
</svg>
</body></html>
